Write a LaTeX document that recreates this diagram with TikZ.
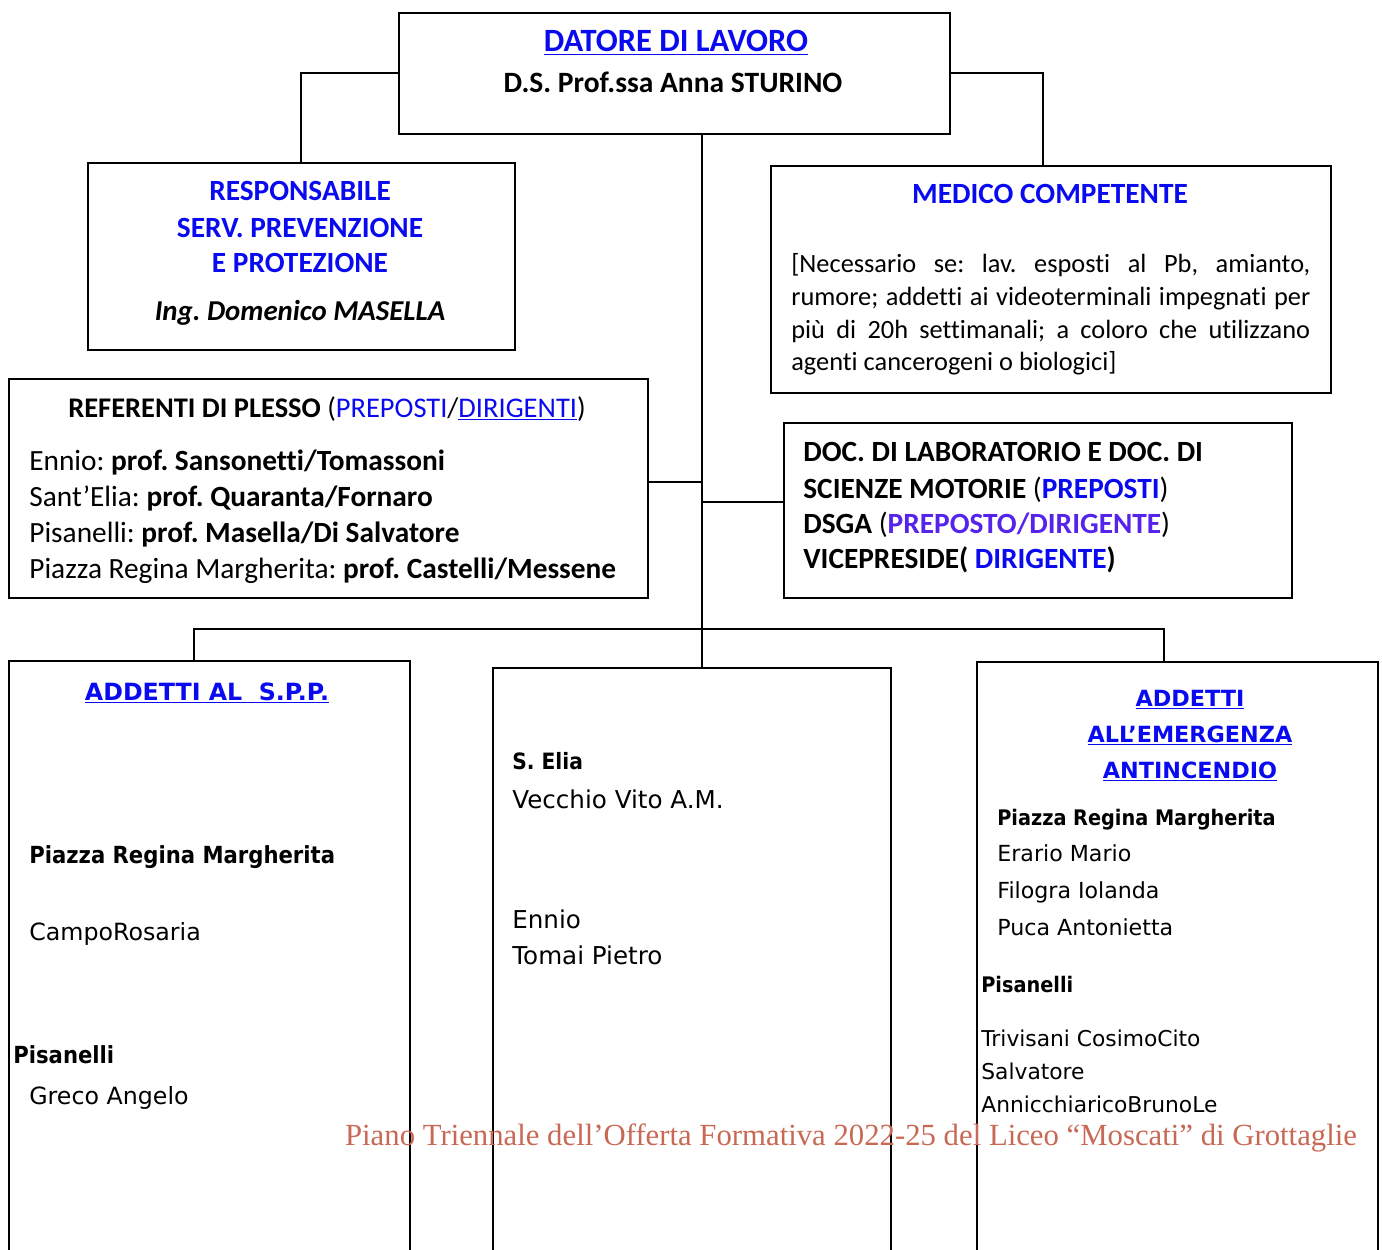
\documentclass[tikz,border=0pt]{standalone}
\usepackage{fontspec}
\usepackage{xcolor}
\setmainfont{Carlito}[Ligatures=NoCommon]
\newfontfamily\verd{DejaVu Sans}
\newfontfamily\verdc{DejaVu Sans Condensed}
\newfontfamily\wmfont{Liberation Serif}
\definecolor{titleblue}{RGB}{10, 10, 240}
\definecolor{roleviolet}{RGB}{85, 35, 235}
\definecolor{watermark}{RGB}{200, 105, 85}
\frenchspacing

\begin{document}
\begin{tikzpicture}[x=0.02cm, y=-0.02cm,
    box/.style={draw, line width=1pt, inner sep=0pt, anchor=north west},
    link/.style={line width=1pt},
    txt/.style={anchor=base west, inner sep=0pt, font=\fontsize{16.7}{20}\selectfont},
    ctxt/.style={anchor=base, inner sep=0pt, font=\fontsize{16.7}{20}\selectfont},
    title/.style={ctxt, font=\fontsize{16.7}{20}\selectfont\bfseries, color=titleblue},
    medtxt/.style={anchor=base west, inner sep=0pt, font=\fontsize{15}{18}\selectfont},
    btxt/.style={anchor=base west, inner sep=0pt, font=\verd\fontsize{#1}{15}\selectfont},
    bbold/.style={anchor=base west, inner sep=0pt, font=\verdc\bfseries\fontsize{#1}{15}\selectfont},
    bctxt/.style={anchor=base, inner sep=0pt, font=\verd\bfseries\fontsize{#1}{15}\selectfont, color=titleblue}]
\useasboundingbox (0,0) rectangle (1382,1250);

% riquadri
\node[box, minimum width=11.02cm, minimum height=2.42cm] (datore) at (398,12) {};
\node[box, minimum width=8.54cm, minimum height=3.74cm] (rspp) at (87,162) {};
\node[box, minimum width=11.2cm, minimum height=4.54cm] (medico) at (770,165) {};
\node[box, minimum width=12.78cm, minimum height=4.38cm] (referenti) at (8,378) {};
\node[box, minimum width=10.16cm, minimum height=3.5cm] (docenti) at (783,422) {};
\node[box, minimum width=8.02cm, minimum height=12cm] (spp) at (8,660) {};
\node[box, minimum width=7.96cm, minimum height=11.86cm] (sedi) at (492,667) {};
\node[box, minimum width=8.02cm, minimum height=11.98cm] (emergenza) at (976,661) {};

% collegamenti
\coordinate (trunktop) at (702,133);
\coordinate (trunkbot) at (702,667);
\draw[link] (trunktop) -- (trunkbot);
\draw[link] (datore.west) -| (rspp.north);
\draw[link] (datore.east) -| ([xshift=-0.16cm]medico.north);
\draw[link] (referenti.east |- 0,482) -- (trunktop |- 0,482);
\draw[link] (docenti.west |- 0,502) -- (trunktop |- 0,502);
\draw[link] (spp.north -| 194,0) -- (194,629) -- (1164,629) -- (emergenza.north -| 1164,0);

% datore di lavoro
\node[title, font=\fontsize{18.5}{22}\selectfont\bfseries] (datoreT) at (676,52) {\underline{DATORE DI LAVORO}};
\node[ctxt, font=\fontsize{16.8}{20}\selectfont\bfseries] (datoreN) at (673,93) {D.S. Prof.ssa Anna STURINO};

% RSPP
\node[title] (rsppA) at (300,201) {RESPONSABILE};
\node[title] (rsppB) at (300,237) {SERV. PREVENZIONE};
\node[title] (rsppC) at (300,273) {E PROTEZIONE};
\node[ctxt, font=\fontsize{16.4}{20}\selectfont\bfseries\itshape] (rsppN) at (300,320) {Ing. Domenico MASELLA};

% medico competente
\node[title] (medicoT) at (1050,204) {MEDICO COMPETENTE};
\node[medtxt] (medicoA) at (791,273) {\makebox[10.38cm][s]{[Necessario se: lav. esposti al Pb, amianto,}};
\node[medtxt] (medicoB) at (791,305) {\makebox[10.38cm][s]{rumore; addetti ai videoterminali impegnati per}};
\node[medtxt] (medicoC) at (791,338) {\makebox[10.38cm][s]{più di 20h settimanali; a coloro che utilizzano}};
\node[medtxt] (medicoD) at (791,370) {agenti cancerogeni o biologici]};

% referenti di plesso
\node[ctxt, font=\fontsize{16.2}{20}\selectfont] (referentiT) at (327,417) {\textbf{REFERENTI DI PLESSO} ({\color{titleblue}PREPOSTI}/{\color{titleblue}\underline{DIRIGENTI}})};
\foreach \sede/\prof [count=\i] in {Ennio/{Sansonetti/Tomassoni}, Sant’Elia/{Quaranta/Fornaro},
    Pisanelli/{Masella/Di Salvatore}, Piazza Regina Margherita/{Castelli/Messene}} {
    \node[txt] (referenti\i) at (29,434+36*\i) {\sede: \textbf{prof. \prof}};
}

% preposti e dirigenti
\node[txt, font=\fontsize{16.7}{20}\selectfont\bfseries] (docentiA) at (803,461) {DOC. DI LABORATORIO E DOC. DI};
\node[txt] (docentiB) at (803,498) {\textbf{SCIENZE MOTORIE} ({\color{titleblue}\bfseries PREPOSTI})};
\node[txt] (docentiC) at (803,533) {\textbf{DSGA} ({\color{roleviolet}\bfseries PREPOSTO/DIRIGENTE})};
\node[txt, font=\fontsize{16.7}{20}\selectfont\bfseries] (docentiD) at (803,568) {VICEPRESIDE( {\color{titleblue}DIRIGENTE})};

% addetti al S.P.P.
\node[bctxt=13.5] (sppT) at (207,700) {\underline{ADDETTI AL\ \ S.P.P.}};
\node[bbold=13.4] (sppA) at (29,863) {Piazza Regina Margherita};
\node[btxt=13.5] (sppB) at (29,940) {CampoRosaria};
\node[bbold=13.4] (sppC) at (13,1063) {Pisanelli};
\node[btxt=13.5] (sppD) at (29,1104) {Greco Angelo};

% sedi
\node[bbold=12.8] (sediA) at (512,769) {S. Elia};
\node[btxt=14] (sediB) at (512,808) {Vecchio Vito A.M.};
\node[btxt=14] (sediC) at (512,928) {Ennio};
\node[btxt=14] (sediD) at (512,964) {Tomai Pietro};

% addetti all'emergenza
\node[bctxt=12.7] (emergenzaA) at (1190,706) {\underline{ADDETTI}};
\node[bctxt=12.7] (emergenzaB) at (1190,742) {\underline{ALL’EMERGENZA}};
\node[bctxt=12.7] (emergenzaC) at (1190,778) {\underline{ANTINCENDIO}};
\node[bbold=12.2] (emergenzaD) at (997,825) {Piazza Regina Margherita};
\node[btxt=12.6] (emergenzaE) at (997,861) {Erario Mario};
\node[btxt=12.6] (emergenzaF) at (997,898) {Filogra Iolanda};
\node[btxt=12.6] (emergenzaG) at (997,935) {Puca Antonietta};
\node[bbold=12.2] (emergenzaH) at (981,992) {Pisanelli};
\node[btxt=12.4] (emergenzaI) at (981,1046) {Trivisani CosimoCito};
\node[btxt=12.4] (emergenzaJ) at (981,1079) {Salvatore};
\node[btxt=12.4] (emergenzaK) at (981,1112) {AnnicchiaricoBrunoLe};

% piè di pagina
\node[anchor=base, inner sep=0pt, font=\wmfont\fontsize{17.5}{20}\selectfont, color=watermark] (footer) at (851,1145)
    {Piano Triennale dell’Offerta Formativa 2022-25 del Liceo “Moscati” di Grottaglie};
\end{tikzpicture}
\end{document}
